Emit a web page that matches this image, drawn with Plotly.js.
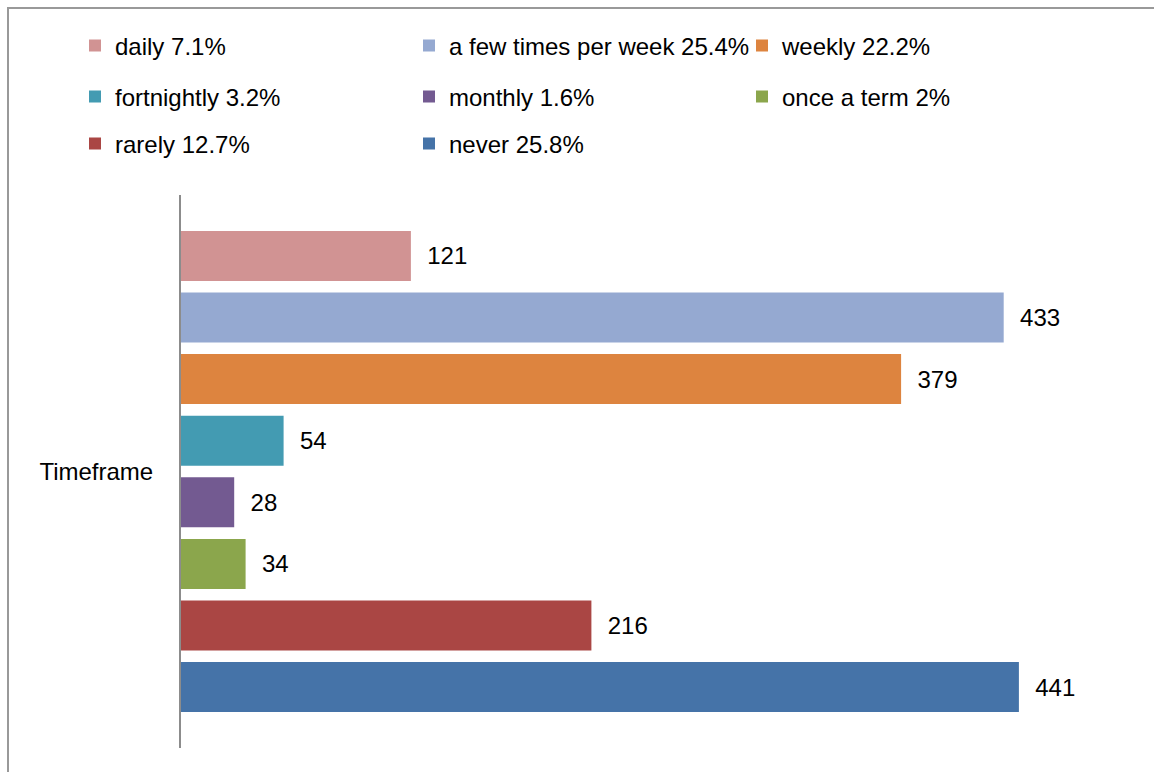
<!DOCTYPE html>
<html>
<head>
<meta charset="utf-8">
<script src="https://cdn.plot.ly/plotly-3.0.1.min.js"></script>
<style>
  html, body { margin: 0; padding: 0; background: #fff; }
  #chart { width: 1154px; height: 772px; }
  #frame { position: absolute; left: 7px; top: 7px; width: 1200px; height: 800px;
           border-left: 2px solid #999; border-top: 2px solid #999; pointer-events: none; }
</style>
</head>
<body>
<div id="chart"></div>
<div id="frame"></div>
<script>
// Data
const category = "Timeframe";
const seriesNames = ["daily", "a few times per week", "weekly", "fortnightly", "monthly", "once a term", "rarely", "never"];
const percentages = ["7.1%", "25.4%", "22.2%", "3.2%", "1.6%", "2%", "12.7%", "25.8%"];
const counts = [121, 433, 379, 54, 28, 34, 216, 441];
const colors = ["#D19393", "#95A9D1", "#DD843F", "#439BB2", "#735A91", "#8BA64C", "#AA4644", "#4573A8"];

const FONT = "Liberation Sans, Arial, sans-serif";

// legend grid: 3 columns, 3 rows (one small legend per entry)
const legendColX = [75, 409, 742];
const legendRowY = [46, 97, 144];

const traces = seriesNames.map((name, i) => ({
  type: "bar",
  orientation: "h",
  name: name + " " + percentages[i],
  x: [counts[i]],
  y: [category],
  marker: { color: colors[i], line: { width: 0 } },
  text: [counts[i]],
  texttemplate: "\u00a0\u00a0%{x}",
  textposition: "outside",
  constraintext: "none",
  cliponaxis: false,
  textfont: { family: FONT, size: 24, color: "#000" },
  hoverinfo: "x+name",
  legend: i === 0 ? "legend" : "legend" + (i + 1)
}));

const plotLeft = 181, plotRight = 1100;
const pxPerUnit = 1.9;

function legendDef(i) {
  const col = i % 3, row = Math.floor(i / 3);
  return {
    orientation: "h",
    xref: "container", yref: "container",
    x: legendColX[col] / 1154, xanchor: "left",
    y: 1 - legendRowY[row] / 772, yanchor: "middle",
    font: { family: FONT, size: 24, color: "#000" },
    bgcolor: "rgba(0,0,0,0)", borderwidth: 0,
    itemclick: false, itemdoubleclick: false
  };
}

const layout = {
  width: 1154, height: 772,
  paper_bgcolor: "#fff", plot_bgcolor: "#fff",
  font: { family: FONT, size: 24, color: "#000" },
  margin: { l: plotLeft, r: 1154 - plotRight, t: 195, b: 24, pad: 0 },
  barmode: "group",
  bargap: 0.109,
  bargroupgap: 0.188,
  showlegend: true,
  xaxis: {
    range: [0, (plotRight - plotLeft) / pxPerUnit],
    showgrid: false, zeroline: false, showticklabels: false, showline: false, ticks: ""
  },
  yaxis: {
    type: "category",
    range: [0.5, -0.5],
    showgrid: false, zeroline: false,
    showline: true, linecolor: "#8c8c8c", linewidth: 2,
    ticks: "", ticklabelstandoff: 21,
    tickfont: { family: FONT, size: 24, color: "#000" }
  }
};
seriesNames.forEach((_, i) => {
  layout[i === 0 ? "legend" : "legend" + (i + 1)] = legendDef(i);
});

Plotly.newPlot("chart", traces, layout, { displayModeBar: false, staticPlot: true });
</script>
</body>
</html>
